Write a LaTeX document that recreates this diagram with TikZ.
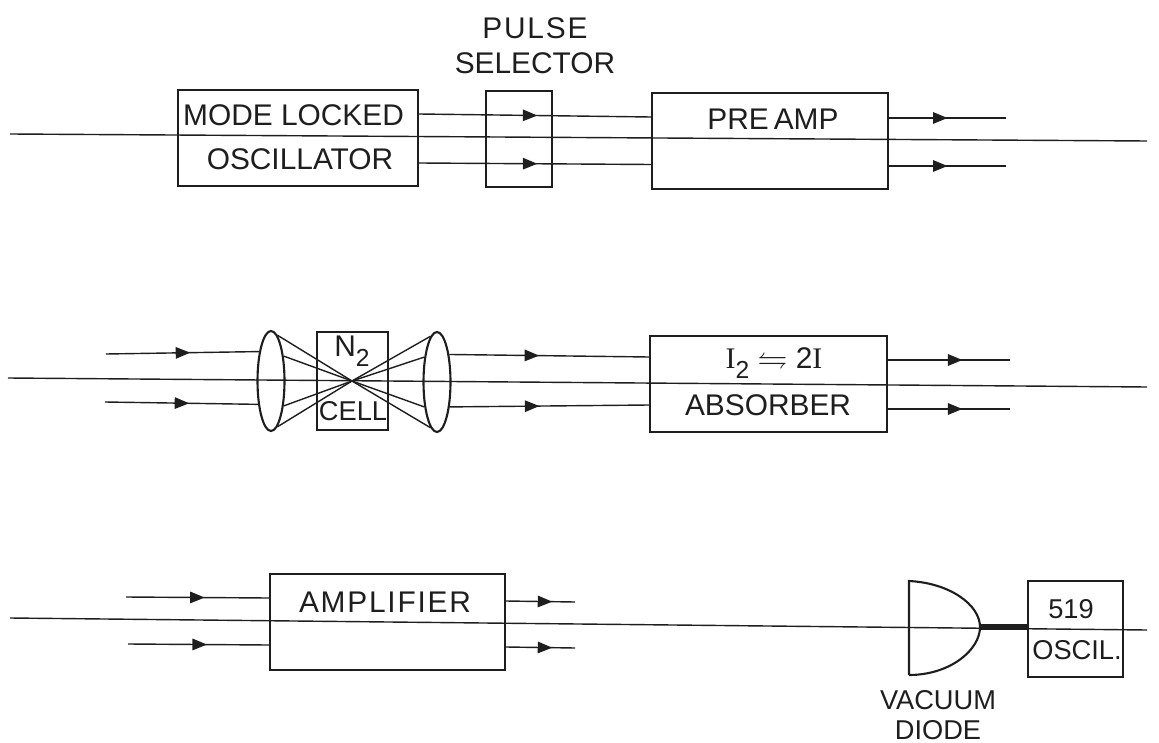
\documentclass[tikz,border=0pt]{standalone}
\usepackage{amssymb}
\usepackage{fontspec}
\setmainfont{Liberation Sans}
\newfontfamily\serifi{Liberation Serif}
\newfontfamily\widesans[LetterSpace=6]{Liberation Sans}
\usepackage{xcolor}
\usetikzlibrary{calc,arrows.meta,decorations.markings,shapes.geometric}
\definecolor{inkc}{HTML}{1E1E1E}
\newcommand{\lowtwo}{\raisebox{-6pt}{\fontsize{14}{14}\selectfont 2}}
\tikzset{
  beam/.style={draw=inkc,line width=0.8pt},
  ar/.style={beam,postaction={decorate},decoration={markings,mark=at position #1 with {\arrow[inkc]{Triangle[length=2.9mm,width=2.3mm]}}}},
  box/.style={draw=inkc,line width=1.2pt,inner sep=0pt},
  lens/.style={draw=inkc,line width=1.2pt,ellipse,inner sep=0pt,minimum width=0.54cm,minimum height=2cm},
  lab/.style={font=\fontsize{17}{17}\selectfont,text=inkc,inner sep=0pt,align=center},
  labs/.style={lab,font=\fontsize{15.5}{15.5}\selectfont}
}
\begin{document}
\begin{tikzpicture}[x=0.02cm,y=-0.02cm]
\useasboundingbox (0,0) rectangle (1159,743);
% top row
\node[box,minimum width=4.8cm,minimum height=1.92cm] (mode) at (298,138) {};
\node[box,minimum width=1.32cm,minimum height=1.92cm] (selector) at (519,139) {};
\node[box,minimum width=4.72cm,minimum height=1.92cm] (preamp) at (770,141) {};
\node[lab] (modetxt) at (293.5,115) {MODE LOCKED};
\node[lab] (osctxt) at (300,159) {OSCILLATOR};
\node[lab] (seltxt) at (535,46) {{\widesans PULSE}\\[3pt]SELECTOR};
\node[lab] (preamptxt) at (773,119) {PRE\,AMP};
\coordinate (outa) at (1006,118);
\coordinate (outb) at (1006,166);
\draw[beam] (10,134) -- (1147,141);
\draw[ar=0.51] ($(mode.east)+(0,-24)$) -- ($(preamp.west)+(0,-24)$);
\draw[ar=0.51] ($(mode.east)+(0,25)$) -- ($(preamp.west)+(0,23.5)$);
\draw[ar=0.5] ($(preamp.east)+(0,-23)$) -- (outa);
\draw[ar=0.5] ($(preamp.east)+(0,25)$) -- (outb);
% middle row
\node[lens] (lensa) at (271,381) {};
\node[lens] (lensb) at (437,382) {};
\node[box,minimum width=1.42cm,minimum height=1.96cm] (cell) at (352.5,381) {};
\node[box,minimum width=4.74cm,minimum height=1.92cm] (absorber) at (768.5,384) {};
\node[lab] (ntxt) at (352,351) {N\lowtwo};
\node[labs] (celltxt) at (353,411) {CELL};
\node[lab] (reactxt) at (774,363) {{\serifi I}\lowtwo\ $\leftrightharpoons$ 2{\serifi I}};
\node[lab] (abstxt) at (768,405) {ABSORBER};
\coordinate (focus) at (352,381);
\coordinate (ina) at (106,354);
\coordinate (inb) at (105,402);
\coordinate (outc) at (1010,360);
\coordinate (outd) at (1010,409);
\draw[beam] (8,378) -- (1147,387);
\draw[ar=0.55] (ina) -- (lensa.112);
\draw[ar=0.55] (inb) -- (lensa.241);
\foreach \a in {82,63,-63,-82}{\draw[beam] (lensa.\a) -- (focus);}
\foreach \a in {98,117,-117,-98}{\draw[beam] (lensb.\a) -- (focus);}
\draw[ar=0.45] (lensb.66) -- ($(absorber.west)+(0,-27)$);
\draw[ar=0.45] (lensb.-63) -- ($(absorber.west)+(0,21)$);
\draw[ar=0.61] ($(absorber.east)+(0,-24)$) -- (outc);
\draw[ar=0.61] ($(absorber.east)+(0,25)$) -- (outd);
% bottom row
\node[box,minimum width=4.7cm,minimum height=1.92cm] (amp) at (387.5,622) {};
\node[box,minimum width=1.9cm,minimum height=1.92cm] (oscil) at (1075.5,629) {};
\node[lab] (amptxt) at (385,602) {{\widesans AMPLIFIER}};
\node[labs] (numtxt) at (1071,609) {519};
\node[labs] (osciltxt) at (1077,650) {OSCIL.};
\node[labs] (diodetxt) at (938,715) {VACUUM\\[2pt]DIODE};
\coordinate (ine) at (126,597);
\coordinate (inf) at (128,644);
\coordinate (oute) at (575,602);
\coordinate (outf) at (575,648);
\coordinate (tip) at (980,627);
\draw[beam] (10,618) -- (1147,630);
\draw[ar=0.55] (ine) -- ($(amp.west)+(0,-24)$);
\draw[ar=0.56] (inf) -- ($(amp.west)+(0,23)$);
\draw[ar=0.67] ($(amp.east)+(0,-21)$) -- (oute);
\draw[ar=0.67] ($(amp.east)+(0,25)$) -- (outf);
\draw[box] (909,675) -- (909,581) .. controls (950,583) and (980,605) .. (tip) .. controls (980,650) and (950,675) .. (909,675);
\draw[inkc,line width=3.6pt] (tip) -- (oscil.west |- tip);
\end{tikzpicture}
\end{document}
